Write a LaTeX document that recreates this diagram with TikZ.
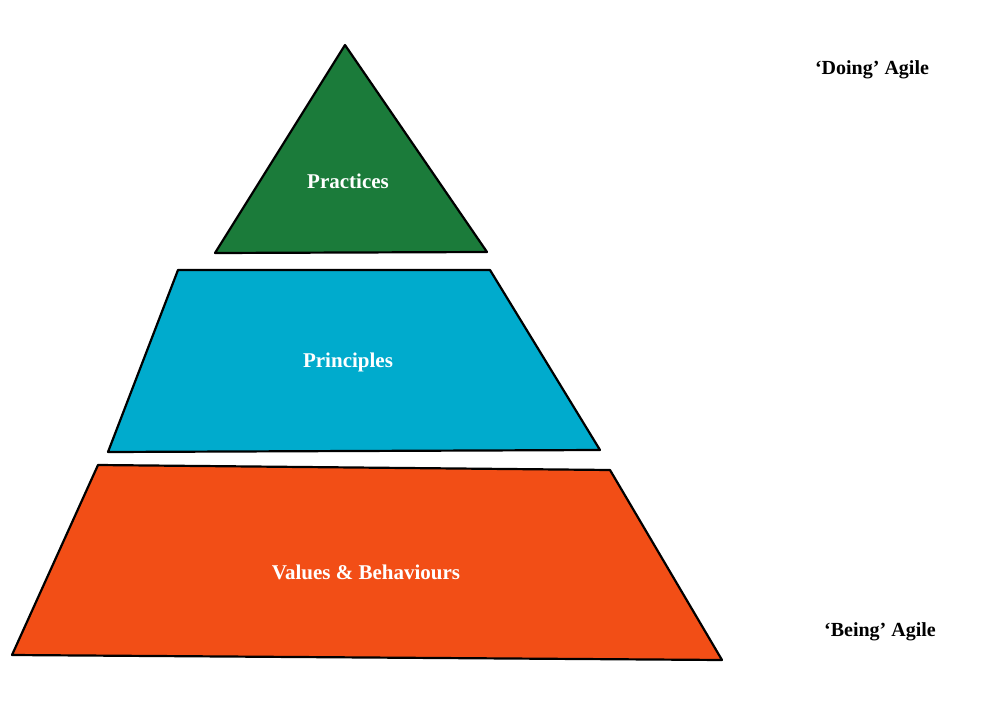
\documentclass[tikz,border=0pt]{standalone}
\usepackage{fontspec}
\setmainfont{Liberation Serif}
\definecolor{pgreen}{HTML}{1B7B3A}
\definecolor{pblue}{HTML}{00ABCD}
\definecolor{porange}{HTML}{F24E16}
\begin{document}
\begin{tikzpicture}[x=1pt,y=-1pt,
  layer/.style={draw=black,line width=2.2pt,line join=round},
  lab/.style={text=white,font=\bfseries\fontsize{21}{24}\selectfont},
  side/.style={text=black,font=\bfseries\fontsize{20}{24}\selectfont}]
\useasboundingbox (0,0) rectangle (1000,703);
\filldraw[layer,fill=pgreen] (345,45) -- (487,252) -- (215,253) -- cycle;
\filldraw[layer,fill=pblue] (178,270) -- (490,270) -- (600,450) -- (108,452) -- cycle;
\filldraw[layer,fill=porange] (98,465) -- (610,470) -- (722,660) -- (12,655) -- cycle;
\node[lab] (pr) at (348,181) {Practices};
\node[lab] (pi) at (348,362) {Principles};
\node[lab] (vb) at (366,572) {Values \& Behaviours};
\node[side] (do) at (872,70) {‘Doing’ Agile};
\node[side] (be) at (880,632) {‘Being’ Agile};
\end{tikzpicture}
\end{document}
